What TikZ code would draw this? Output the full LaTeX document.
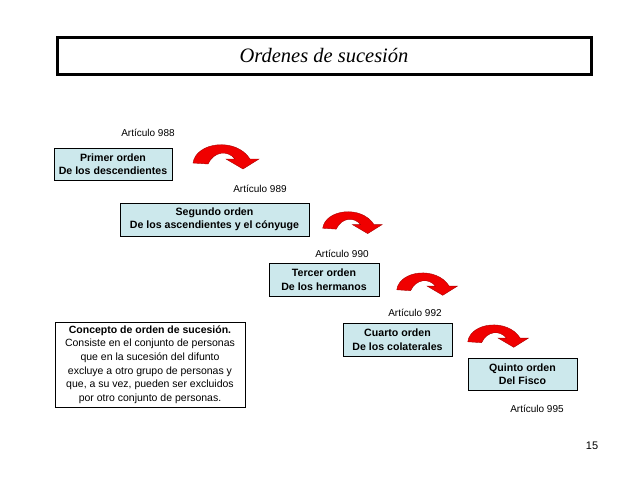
\documentclass[tikz,border=0pt]{standalone}
\usepackage{fontspec}
\setmainfont{Liberation Sans}
\newfontfamily\titlefont{Liberation Serif}
\definecolor{boxcyan}{RGB}{204,232,236}
\definecolor{arrred}{RGB}{240,0,0}
\definecolor{arrdark}{RGB}{170,0,0}
\begin{document}
\begin{tikzpicture}[x=1pt,y=-1pt,
  ordbox/.style={draw=black,line width=0.8pt,fill=boxcyan,align=center,inner sep=0pt,
    font=\fontsize{10.6}{13.5}\selectfont\bfseries},
  artlabel/.style={inner sep=0pt,font=\fontsize{10}{12}\selectfont},
  curvarrow/.pic={\fill[arrred,draw=arrdark,line width=0.4pt]
     (3,28) .. controls (6,7) and (46,2) .. (60,24) -- (69,24) -- (53,34) -- (36,24) -- (45,24)
     .. controls (38,15) and (24,16) .. (18,29) -- cycle;}]
\useasboundingbox (0,0) rectangle (638,479);
\fill[white] (0,0) rectangle (638,479);
% title
\node[draw=black,line width=3pt,minimum width=534pt,minimum height=37pt,inner sep=0pt] (title) at (324,55.5) {};
\node[inner sep=0pt,font=\titlefont\fontsize{20.5}{24}\selectfont\itshape] (titletext) at (324,55) {Ordenes de sucesión};
% order boxes
\node[ordbox,minimum width=118pt,minimum height=32pt] (b1) at (113,164) {Primer orden\\De los descendientes};
\node[ordbox,minimum width=189pt,minimum height=33pt] (b2) at (214.5,219.5) {Segundo orden\\De los ascendientes y el cónyuge};
\node[ordbox,minimum width=110pt,minimum height=33pt] (b3) at (324,279.5) {Tercer orden\\De los hermanos};
\node[ordbox,minimum width=109pt,minimum height=33pt] (b4) at (397.5,339.5) {Cuarto orden\\De los colaterales};
\node[ordbox,minimum width=109pt,minimum height=32pt] (b5) at (522.5,374) {Quinto orden\\Del Fisco};
% labels
\node[artlabel] (a1) at (148,133) {Artículo 988};
\node[artlabel] (a2) at (260,189) {Artículo 989};
\node[artlabel] (a3) at (342,254) {Artículo 990};
\node[artlabel] (a4) at (415,313) {Artículo 992};
\node[artlabel] (a5) at (537,409) {Artículo 995};
% arrows
\pic at (190,135) {curvarrow};
\pic[scale=0.9] at (320,203) {curvarrow};
\pic[scale=0.92] at (394,264) {curvarrow};
\pic[scale=0.92] at (465,316) {curvarrow};
% concept
\node[draw=black,line width=0.8pt,fill=white,minimum width=190pt,minimum height=85pt,inner sep=0pt,align=center,
  font=\fontsize{10.5}{13.7}\selectfont] (concept) at (150,364.5)
  {\textbf{Concepto de orden de sucesión.}\\Consiste en el conjunto de personas\\que en la sucesión del difunto\\excluye a otro grupo de personas y\\que, a su vez, pueden ser excluidos\\por otro conjunto de personas.};
% page number
\node[inner sep=0pt,font=\fontsize{11}{13}\selectfont] (pg) at (592,446) {15};
\end{tikzpicture}
\end{document}
